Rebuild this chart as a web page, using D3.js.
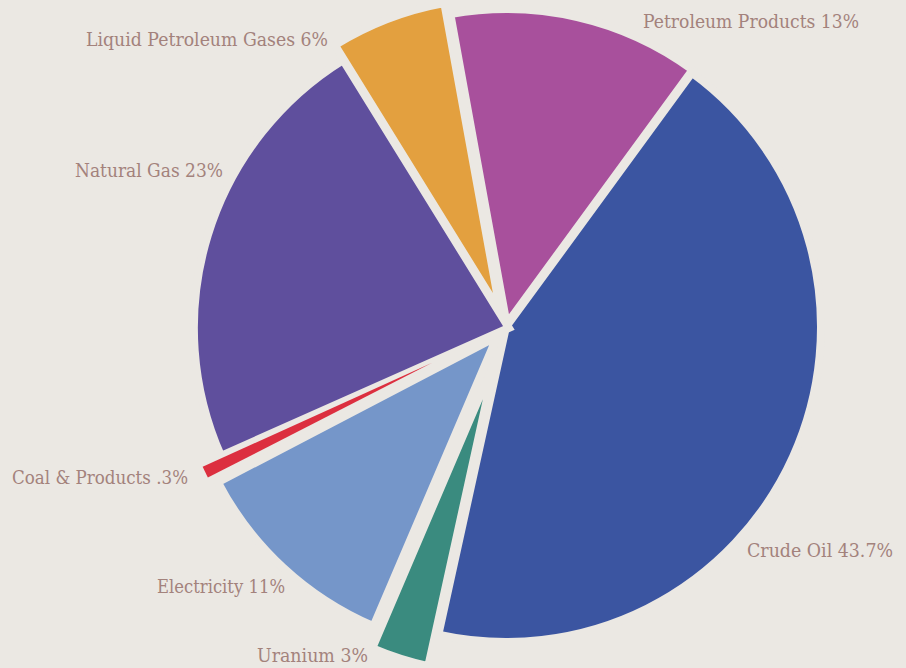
<!DOCTYPE html>
<html>
<head>
<meta charset="utf-8">
<script src="https://cdn.jsdelivr.net/npm/d3@7"></script>
<style>
  html, body { margin: 0; padding: 0; background: #ebe8e3; }
  svg { display: block; }
</style>
</head>
<body>
<svg id="chart" width="906" height="668"></svg>
<script>
// ---- data (clockwise from the top) ----
const categories = ["Petroleum Products", "Crude Oil", "Uranium", "Electricity", "Coal & Products", "Natural Gas", "Liquid Petroleum Gases"];
const shares     = [13, 43.7, 3, 11, 0.3, 23, 6];
const shareLabels = ["13%", "43.7%", "3%", "11%", ".3%", "23%", "6%"];

// ---- styles / layout ----
const colors = ["#a8509c", "#3b55a1", "#3a8b7f", "#7596c9", "#dc2f3f", "#5f4f9d", "#e3a03f"];
const explode = [3, 0, 33, 13, 82, -3, 15];
const labelLayout = [ // [x, baseline, width]
  [643, 28, 216], [747, 557, 146], [257, 662, 111], [157, 593, 128],
  [12, 484, 176], [75, 177, 148], [86, 46, 242]
];

const W = 906, H = 668;
const bg = "#ebe8e3";
const cx = 506, cy = 327, R = 315;
const gap = 8;

const svg = d3.select("#chart");
svg.append("rect").attr("width", W).attr("height", H).attr("fill", bg);

const data = categories.map((c, i) => ({ name: c, value: shares[i], label: shareLabels[i], i }));

const pie = d3.pie()
  .sort(null)
  .value(d => Math.max(d.value, 1))   // keep tiny slices visible
  .startAngle(-10.3 * Math.PI / 180)
  .endAngle((360 - 10.3) * Math.PI / 180);

const arcs = pie(data);
const big = arcs.filter(d => d.data.value >= 1);
const tiny = arcs.filter(d => d.data.value < 1);

const arc = d3.arc().innerRadius(0).outerRadius(R).padAngle(0);

const mid = d => (d.startAngle + d.endAngle) / 2;
function shift(d) {
  const [x, y] = d3.pointRadial(mid(d), explode[d.data.i]);
  return `translate(${x},${y})`;
}

const g = svg.append("g").attr("transform", `translate(${cx},${cy})`);

g.append("g")
  .selectAll("path")
  .data(big)
  .join("path")
  .attr("fill", d => colors[d.data.i])
  .attr("stroke", bg)
  .attr("stroke-width", gap)
  .attr("stroke-linejoin", "miter")
  .attr("transform", shift)
  .attr("d", arc);

// thin exploded sliver for very small shares
const sliverLen = 252, sliverHalfWidth = 6;
const sliver = d3.line().curve(d3.curveLinearClosed);
const gt = svg.append("g").attr("transform", `translate(${cx},${cy})`);
gt.selectAll("path")
  .data(tiny)
  .join("path")
  .attr("fill", d => colors[d.data.i])
  .attr("d", d => {
    const m = mid(d), e = explode[d.data.i], r = e + sliverLen;
    const dw = sliverHalfWidth / r;
    return sliver([
      d3.pointRadial(m, e),
      d3.pointRadial(m - dw, r),
      d3.pointRadial(m + dw, r)
    ]);
  });

svg.append("g")
  .selectAll("text")
  .data(data)
  .join("text")
  .attr("x", d => labelLayout[d.i][0])
  .attr("y", d => labelLayout[d.i][1])
  .attr("textLength", d => labelLayout[d.i][2])
  .attr("lengthAdjust", "spacingAndGlyphs")
  .attr("font-family", "'DejaVu Serif', serif")
  .attr("font-size", 18)
  .attr("fill", "#a3827c")
  .text(d => `${d.name} ${d.label}`);
</script>
</body>
</html>
